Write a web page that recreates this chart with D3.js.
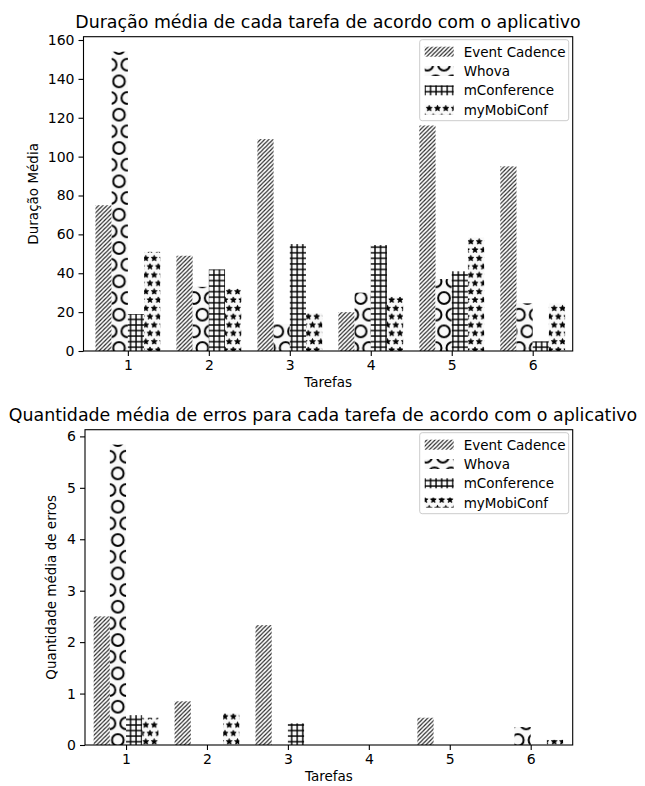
<!DOCTYPE html>
<html>
<head>
<meta charset="utf-8">
<script src="https://cdn.jsdelivr.net/npm/d3@7"></script>
<style>
  html, body { margin: 0; padding: 0; background: #fff; }
  svg { display: block; }
  text { font-family: "DejaVu Sans", sans-serif; fill: #000; }
</style>
</head>
<body>
<svg id="chart" width="645" height="786"></svg>
<script>
// ---------------- data ----------------
const tasks = [1, 2, 3, 4, 5, 6];
const apps = ["Event Cadence", "Whova", "mConference", "myMobiConf"];

// Duração média (top chart)
const durEventCadence = [75, 49, 109, 20, 116, 95];
const durWhova        = [154, 33, 14, 30, 37, 24.5];
const durMConference  = [19, 42, 55, 54.5, 41, 5];
const durMyMobiConf   = [51, 32, 19.5, 28, 58.5, 24.5];

// Quantidade média de erros (bottom chart)
const errEventCadence = [2.5, 0.85, 2.33, 0, 0.53, 0];
const errWhova        = [5.84, 0, 0, 0, 0, 0.35];
const errMConference  = [0.58, 0, 0.42, 0, 0, 0];
const errMyMobiConf   = [0.53, 0.62, 0, 0, 0, 0.1];

const durTicks = [0, 20, 40, 60, 80, 100, 120, 140, 160];
const errTicks = [0, 1, 2, 3, 4, 5, 6];

const title1 = "Duração média de cada tarefa de acordo com o aplicativo";
const title2 = "Quantidade média de erros para cada tarefa de acordo com o aplicativo";
const ylabel1 = "Duração Média";
const ylabel2 = "Quantidade média de erros";
const xlabel = "Tarefas";

// ---------------- patterns ----------------
const svg = d3.select("#chart");
const defs = svg.append("defs");
const T = 100;           // hatch tile size (px)
const HLW = 1.4;         // hatch line width

function makePatterns(id, ox, oy) {
  // Event Cadence: '////'
  {
    const s = T / 24;
    const p = defs.append("pattern").attr("id", "hatch-ec" + id)
      .attr("patternUnits", "userSpaceOnUse").attr("width", s).attr("height", s);
    p.append("rect").attr("width", s).attr("height", s).attr("fill", "#fff");
    p.append("path").attr("d", `M${-s},${s} L${s},${-s} M0,${2*s} L${2*s},0 M${-s},${2*s} L${2*s},${-s}`)
      .attr("stroke", "#222").attr("stroke-width", 1.15);
  }
  // Whova: 'O' large circles
  {
    const s = T / 6, r = 0.35 * s;
    const p = defs.append("pattern").attr("id", "hatch-wh" + id)
      .attr("patternUnits", "userSpaceOnUse").attr("width", s).attr("height", 2 * s)
      .attr("x", ox).attr("y", oy);
    p.append("rect").attr("width", s).attr("height", 2 * s).attr("fill", "#f9f9f9");
    [[0, 0], [s, 0], [0, 2 * s], [s, 2 * s], [s / 2, s]].forEach(([cx, cy]) => {
      p.append("circle").attr("cx", cx).attr("cy", cy).attr("r", r)
        .attr("fill", "none").attr("stroke", "#000").attr("stroke-width", 2);
    });
  }
  // mConference: '+++'
  {
    const s = T / 18;
    const p = defs.append("pattern").attr("id", "hatch-mc" + id)
      .attr("patternUnits", "userSpaceOnUse").attr("width", s).attr("height", s);
    p.append("rect").attr("width", s).attr("height", s).attr("fill", "#f9f9f9");
    p.append("path").attr("d", `M0,${s/2} L${s},${s/2} M${s/2},0 L${s/2},${s}`)
      .attr("stroke", "#000").attr("stroke-width", HLW);
  }
  // myMobiConf: '**' stars
  {
    const s = T / 12, r = s / 3 * 1.1;
    const p = defs.append("pattern").attr("id", "hatch-mm" + id)
      .attr("patternUnits", "userSpaceOnUse").attr("width", s).attr("height", 2 * s);
    p.append("rect").attr("width", s).attr("height", 2 * s).attr("fill", "#f9f9f9");
    const star = (cx, cy) => {
      const pts = [];
      for (let i = 0; i < 10; i++) {
        const a = -Math.PI / 2 + i * Math.PI / 5;
        const rr = i % 2 === 0 ? r : r * 0.45;
        pts.push([cx + rr * Math.cos(a), cy + rr * Math.sin(a)]);
      }
      return "M" + pts.map(q => q.join(",")).join("L") + "Z";
    };
    [[0, 0], [s, 0], [0, 2 * s], [s, 2 * s], [s / 2, s]].forEach(([cx, cy]) => {
      p.append("path").attr("d", star(cx, cy)).attr("fill", "#000")
        .attr("stroke", "#000").attr("stroke-width", 0.8);
    });
  }
}
makePatterns("1", 10.67, 31.36);
makePatterns("2", 9.5, 23.4);

const patternIds = ["hatch-ec", "hatch-wh", "hatch-mc", "hatch-mm"];
const offsets = [-0.3, -0.1, 0.1, 0.3];
const barW = 0.2;

// ---------------- panel drawing ----------------
function panel(cfg) {
  const g = svg.append("g");
  const x = d3.scaleLinear().domain(cfg.xDomain).range([cfg.left, cfg.right]);
  const y = d3.scaleLinear().domain(cfg.yDomain).range([cfg.bottom, cfg.top]);

  // bars
  cfg.series.forEach((vals, si) => {
    g.append("g").selectAll("rect").data(vals).join("rect")
      .attr("x", (d, i) => x(tasks[i] + offsets[si] - barW / 2))
      .attr("width", (d, i) => x(tasks[i] + offsets[si] + barW / 2) - x(tasks[i] + offsets[si] - barW / 2))
      .attr("y", d => y(d))
      .attr("height", d => y(0) - y(d))
      .attr("fill", `url(#${patternIds[si]}${cfg.pid})`);
  });

  // axes
  const xAxis = d3.axisBottom(x).tickValues(tasks).tickSize(5).tickPadding(4).tickFormat(d3.format("d"));
  const yAxis = d3.axisLeft(y).tickValues(cfg.yTicks).tickSize(5).tickPadding(4).tickFormat(d3.format("d"));
  const gx = g.append("g").attr("transform", `translate(0,${cfg.bottom})`).call(xAxis);
  const gy = g.append("g").attr("transform", `translate(${cfg.left},0)`).call(yAxis);
  [gx, gy].forEach(a => {
    a.select(".domain").remove();
    a.selectAll("line").attr("stroke", "#000").attr("stroke-width", 1.1);
    a.selectAll("text").style("font-family", "DejaVu Sans").style("font-size", "14px").attr("fill", "#000");
  });

  // frame
  g.append("rect").attr("x", cfg.left).attr("y", cfg.top)
    .attr("width", cfg.right - cfg.left).attr("height", cfg.bottom - cfg.top)
    .attr("fill", "none").attr("stroke", "#000").attr("stroke-width", 1.1);

  // title & labels
  g.append("text").attr("x", cfg.titleX).attr("y", cfg.top - 9)
    .attr("text-anchor", "middle").style("font-size", "17.4px").text(cfg.title);
  g.append("text").attr("x", (cfg.left + cfg.right) / 2).attr("y", cfg.bottom + 36)
    .attr("text-anchor", "middle").style("font-size", "13.5px").text(xlabel);
  g.append("text")
    .attr("transform", `translate(${cfg.ylabelX},${(cfg.top + cfg.bottom) / 2}) rotate(-90)`)
    .attr("text-anchor", "middle").style("font-size", "13.5px").text(cfg.ylabel);

  // legend
  const lx = cfg.right - 153, ly = cfg.top + 3;
  const lg = g.append("g");
  lg.append("rect").attr("x", lx).attr("y", ly).attr("width", 149).attr("height", 81)
    .attr("rx", 2.5).attr("fill", "#fff").attr("fill-opacity", 0.8)
    .attr("stroke", "#cccccc").attr("stroke-width", 1);
  apps.forEach((name, i) => {
    const cy = ly + 12 + i * 19.3;
    lg.append("rect").attr("x", lx + 5).attr("y", cy - 5).attr("width", 29).attr("height", 10)
      .attr("fill", `url(#${patternIds[i]}${cfg.pid})`);
    lg.append("text").attr("x", lx + 44).attr("y", cy + 5).style("font-size", "13.5px").text(name);
  });
}

panel({
  pid: "1",
  left: 83.5, right: 572.7, top: 36.7, bottom: 351,
  xDomain: [0.452, 6.494], yDomain: [0, 161.7], yTicks: durTicks,
  series: [durEventCadence, durWhova, durMConference, durMyMobiConf],
  title: title1, titleX: 328, ylabel: ylabel1, ylabelX: 38
});
panel({
  pid: "2",
  left: 85, right: 572.7, top: 429.7, bottom: 745,
  xDomain: [0.493, 6.519], yDomain: [0, 6.13], yTicks: errTicks,
  series: [errEventCadence, errWhova, errMConference, errMyMobiConf],
  title: title2, titleX: 323, ylabel: ylabel2, ylabelX: 56
});
</script>
</body>
</html>
